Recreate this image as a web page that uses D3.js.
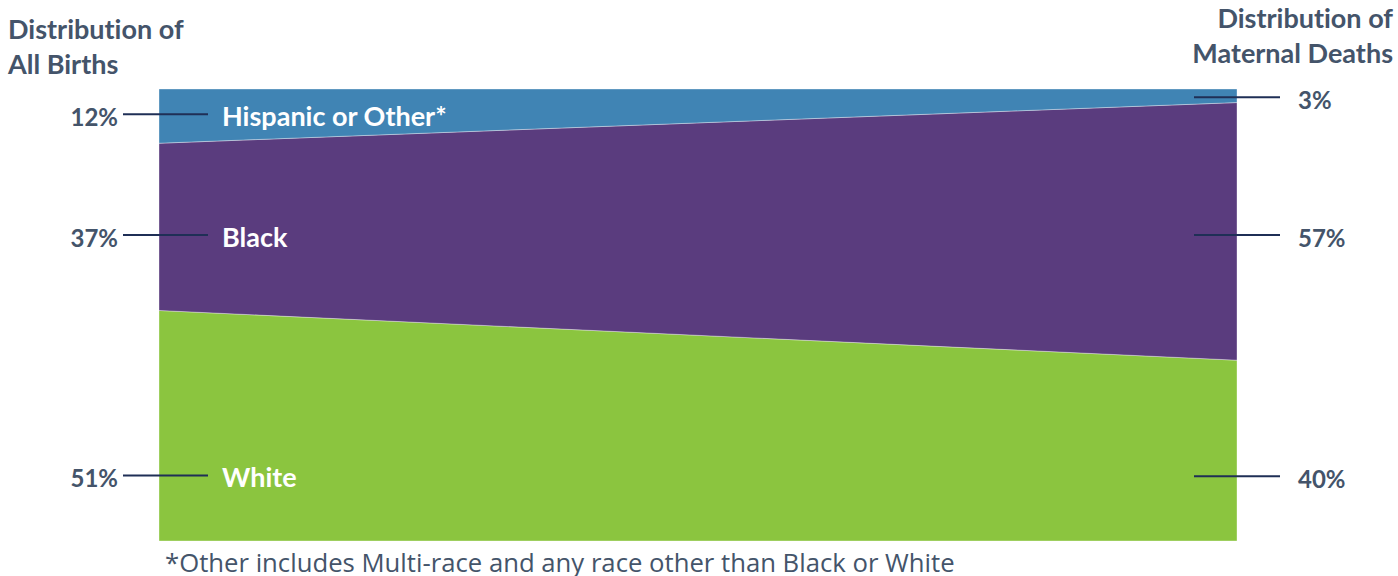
<!DOCTYPE html>
<html>
<head>
<meta charset="utf-8">
<script src="https://cdn.jsdelivr.net/npm/d3@7/dist/d3.min.js"></script>
<style>
  html, body { margin: 0; padding: 0; background: #fff; }
  svg { display: block; }
  text { font-variant-ligatures: none; font-feature-settings: "liga" 0; }
</style>
</head>
<body>
<svg id="chart" width="1398" height="576"></svg>
<script>
// Race groups, stacked bottom to top
const categories = ["White", "Black", "Hispanic or Other*"];
// Share (%) of all births and of maternal deaths by group
const birthsShare = [51, 37, 12];
const deathsShare = [40, 57, 3];
// Column headings (two lines each)
const columnTitles = [["Distribution of", "All Births"], ["Distribution of", "Maternal Deaths"]];
const footnote = "*Other includes Multi-race and any race other than Black or White";

const colors = { "White": "#8bc53f", "Black": "#5a3c7e", "Hispanic or Other*": "#4084b4" };
const textColor = "#44546a";
const leaderColor = "#1f2f56";

const svg = d3.select("#chart");
const plotLeft = 159, plotRight = 1237, plotTop = 89, plotBottom = 541;

const rows = [
  Object.fromEntries([["col", 0], ...categories.map((c, i) => [c, birthsShare[i]])]),
  Object.fromEntries([["col", 1], ...categories.map((c, i) => [c, deathsShare[i]])])
];

const series = d3.stack().keys(categories)(rows);

const x = d3.scaleLinear().domain([0, 1]).range([plotLeft, plotRight]);
const y = d3.scaleLinear().domain([0, 100]).range([plotBottom, plotTop]);

const area = d3.area()
  .x(d => x(d.data.col))
  .y0(d => y(d[0]))
  .y1(d => y(d[1]));

svg.append("g").selectAll("path")
  .data(series)
  .join("path")
  .attr("d", area)
  .attr("fill", d => colors[d.key])
  .attr("stroke", "rgba(255,255,255,0.35)")
  .attr("stroke-width", 1);

const font = "Lato, 'Open Sans', sans-serif";

// Leader anchors, in stacked-percent units (left column, right column)
const anchorLeft = { "Hispanic or Other*": 94.4, "Black": 67.7, "White": 14.5 };
const anchorRight = { "Hispanic or Other*": 98.2, "Black": 67.7, "White": 14.3 };

const labels = svg.append("g");
categories.forEach((c, i) => {
  const yl = y(anchorLeft[c]);
  const yr = y(anchorRight[c]);
  // left leader + value
  labels.append("line")
    .attr("x1", 123).attr("x2", 208).attr("y1", yl).attr("y2", yl)
    .attr("stroke", leaderColor).attr("stroke-width", 2);
  labels.append("text")
    .attr("x", 118).attr("y", yl).attr("dy", "0.48em")
    .attr("text-anchor", "end")
    .attr("font-family", font).attr("font-weight", 700).attr("font-size", 24)
    .attr("fill", textColor)
    .text(birthsShare[i] + "%");
  // category name inside the band
  labels.append("text")
    .attr("x", 222).attr("y", yl).attr("dy", "0.44em")
    .attr("font-family", font).attr("font-weight", 700).attr("font-size", 27)
    .attr("fill", "#ffffff")
    .text(c);
  // right leader + value
  labels.append("line")
    .attr("x1", 1194).attr("x2", 1280).attr("y1", yr).attr("y2", yr)
    .attr("stroke", leaderColor).attr("stroke-width", 2);
  labels.append("text")
    .attr("x", 1298).attr("y", yr).attr("dy", "0.48em")
    .attr("font-family", font).attr("font-weight", 700).attr("font-size", 24)
    .attr("fill", textColor)
    .text(deathsShare[i] + "%");
});

// column headings
const headL = svg.append("text")
  .attr("font-family", font).attr("font-weight", 700).attr("font-size", 27)
  .attr("fill", textColor);
columnTitles[0].forEach((t, i) => headL.append("tspan").attr("x", 8).attr("y", 39 + i * 35).text(t));

const headR = svg.append("text")
  .attr("font-family", font).attr("font-weight", 700).attr("font-size", 27)
  .attr("fill", textColor).attr("text-anchor", "end");
columnTitles[1].forEach((t, i) => headR.append("tspan").attr("x", 1393).attr("y", 28 + i * 35).text(t));

// footnote
svg.append("text")
  .attr("x", 165).attr("y", 572)
  .attr("font-family", "'Open Sans', sans-serif").attr("font-size", 25.7)
  .attr("fill", textColor)
  .text(footnote);
</script>
</body>
</html>
